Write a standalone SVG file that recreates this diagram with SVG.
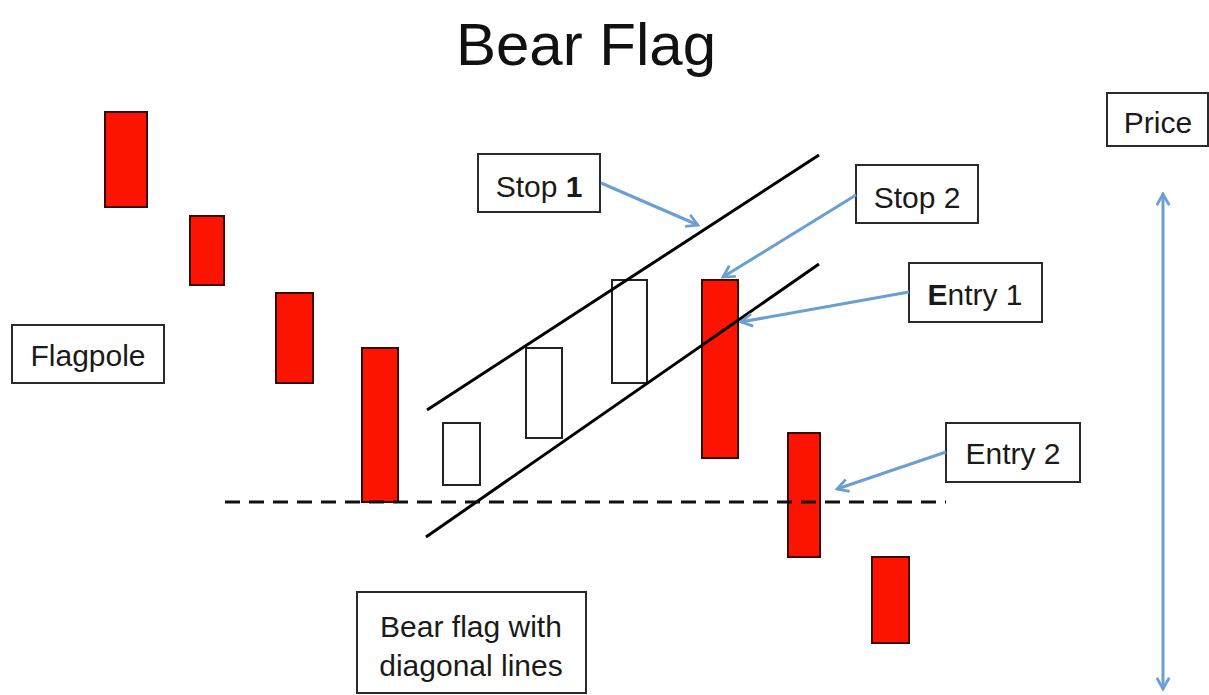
<svg xmlns="http://www.w3.org/2000/svg" width="1209" height="695" viewBox="0 0 1209 695">
<style>
.bg{fill:#ffffff}
.red{fill:#fd1400;stroke:#3a0800;stroke-width:2}
.hollow{fill:#ffffff;stroke:#222;stroke-width:2}
.box{fill:#ffffff;stroke:#2a2a2a;stroke-width:2}
.lbl{font-family:"Liberation Sans",Arial,sans-serif;font-size:30px;fill:#1a1a1a}
.title{font-family:"Liberation Sans",Arial,sans-serif;font-size:60px;fill:#111}
.diag{stroke:#000;stroke-width:3;fill:none}
.dash{stroke:#111;stroke-width:3;stroke-dasharray:15 9;fill:none}
.blue{stroke:#6a9fd4;stroke-width:3;fill:none}
</style>
<defs>
<marker id="ah" viewBox="0 0 12 12" refX="10" refY="6" markerWidth="5" markerHeight="5" orient="auto-start-reverse" markerUnits="strokeWidth">
<path d="M1,1 L10,6 L1,11" fill="none" stroke="#6a9fd4" stroke-width="2.2" stroke-linejoin="miter"/>
</marker>
</defs>
<rect class="bg" x="0" y="0" width="1209" height="695"/>
<g id="title"><text class="title" x="586" y="65" text-anchor="middle">Bear Flag</text></g>

<g id="candles">
<rect id="c1" class="red" x="105" y="112" width="42" height="95"/>
<rect id="c2" class="red" x="190" y="216" width="34" height="69"/>
<rect id="c3" class="red" x="276" y="293" width="37" height="90"/>
<rect id="c4" class="red" x="362" y="348" width="36" height="154"/>
<rect id="h1" class="hollow" x="443" y="423" width="37" height="62"/>
<rect id="h2" class="hollow" x="526" y="348" width="36" height="90"/>
<rect id="h3" class="hollow" x="612" y="280" width="35" height="103"/>
<rect id="c5" class="red" x="702" y="280" width="36" height="178"/>
<rect id="c6" class="red" x="788" y="433" width="32" height="124"/>
<rect id="c7" class="red" x="872" y="557" width="37" height="86"/>
</g>

<g id="lines">
<line class="diag" x1="427" y1="410" x2="819" y2="155"/>
<line class="diag" x1="426" y1="537" x2="819" y2="264"/>
<line class="dash" x1="225" y1="502" x2="946" y2="502"/>
</g>

<g id="flagpole"><rect class="box" x="12" y="325" width="152" height="58"/><text class="lbl" x="88" y="366" text-anchor="middle">Flagpole</text></g>
<g id="stop1"><rect class="box" x="478" y="154" width="122" height="58"/><text class="lbl" x="539" y="197" text-anchor="middle">Stop <tspan font-weight="bold">1</tspan></text></g>
<g id="stop2"><rect class="box" x="856" y="165" width="122" height="58"/><text class="lbl" x="917" y="208" text-anchor="middle">Stop 2</text></g>
<g id="entry1"><rect class="box" x="909" y="263" width="133" height="59"/><text class="lbl" x="975" y="305" text-anchor="middle"><tspan font-weight="bold">E</tspan>ntry 1</text></g>
<g id="entry2"><rect class="box" x="946" y="423" width="134" height="59"/><text class="lbl" x="1013" y="464" text-anchor="middle">Entry 2</text></g>
<g id="price"><rect class="box" x="1107" y="93" width="101" height="53"/><text class="lbl" x="1158" y="133" text-anchor="middle">Price</text></g>
<g id="bearflag"><rect class="box" x="357" y="592" width="229" height="101"/><text class="lbl" x="471" y="637" text-anchor="middle">Bear flag with</text><text class="lbl" x="471" y="676" text-anchor="middle">diagonal lines</text></g>

<g id="connectors">
<line class="blue" x1="601" y1="183" x2="698" y2="225" marker-end="url(#ah)"/>
<line class="blue" x1="856" y1="195" x2="723" y2="277" marker-end="url(#ah)"/>
<line class="blue" x1="909" y1="292" x2="741" y2="322" marker-end="url(#ah)"/>
<line class="blue" x1="946" y1="452" x2="837" y2="489" marker-end="url(#ah)"/>
<line class="blue" x1="1163" y1="194" x2="1163" y2="689" marker-start="url(#ah)" marker-end="url(#ah)"/>
</g>
</svg>
